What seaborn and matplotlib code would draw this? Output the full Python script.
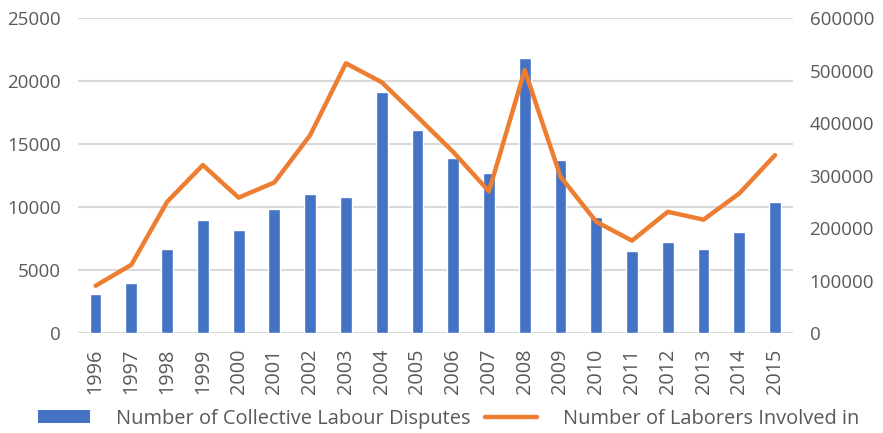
import matplotlib
matplotlib.use("Agg")
import matplotlib.pyplot as plt
import seaborn as sns
import pandas as pd
from matplotlib.patches import Patch
from matplotlib.lines import Line2D

years = ["1996", "1997", "1998", "1999", "2000", "2001", "2002", "2003", "2004", "2005",
         "2006", "2007", "2008", "2009", "2010", "2011", "2012", "2013", "2014", "2015"]
disputes = [3100, 4000, 6700, 9000, 8200, 9850, 11000, 10800, 19100, 16100,
            13900, 12700, 21800, 13700, 9200, 6500, 7200, 6700, 8000, 10400]
laborers = [90000, 130000, 250000, 320000, 258000, 287000, 377000, 514000, 478000, 412000,
            345000, 270000, 501000, 298000, 212000, 176000, 231000, 216000, 266000, 339000]
left_ticks = [0, 5000, 10000, 15000, 20000, 25000]
right_ticks = [0, 100000, 200000, 300000, 400000, 500000, 600000]
bar_label = "Number of Collective Labour Disputes"
line_label = "Number of Laborers Involved in"

BLUE = "#4472C4"
ORANGE = "#ED7D31"
TEXT = "#595959"
GRID = "#D9D9D9"

sns.set_theme(style="white")
plt.rcParams["font.family"] = ["Open Sans", "DejaVu Sans"]

df = pd.DataFrame({"year": years, "disputes": disputes, "laborers": laborers})

fig = plt.figure(figsize=(8.83, 4.33), dpi=100)
ax = fig.add_axes([0.088, 0.231, 0.81, 0.727])
ax2 = ax.twinx()

sns.barplot(data=df, x="year", y="disputes", order=years, color=BLUE,
            width=0.33, saturation=1, ax=ax, zorder=2)
sns.pointplot(data=df, x="year", y="laborers", order=years, color=ORANGE,
              markers="", linewidth=3.2, ax=ax2)

ax.set_ylim(0, 25000)
ax.set_yticks(left_ticks)
ax2.set_ylim(0, 600000)
ax2.set_yticks(right_ticks)
ax.set_xlim(-0.5, len(years) - 0.5)

ax.yaxis.grid(True, color=GRID, linewidth=1.5, zorder=0)
ax.set_axisbelow(True)
ax2.grid(False)
for a in (ax, ax2):
    for s in a.spines.values():
        s.set_visible(False)
    a.set_xlabel("")
    a.set_ylabel("")

ax.tick_params(axis="y", labelsize=13.5, labelcolor=TEXT, length=0, pad=12)
ax2.tick_params(axis="y", labelsize=13.5, labelcolor=TEXT, length=0, pad=12)
ax.tick_params(axis="x", labelsize=14.3, labelcolor=TEXT, length=0, pad=11, rotation=90)
ax.set_xticks(range(len(years)))
ax.set_xticklabels(years)

handles = [Patch(facecolor=BLUE, edgecolor="none"),
           Line2D([0], [0], color=ORANGE, linewidth=3.2)]
fig.legend(handles, [bar_label, line_label], loc="center", bbox_to_anchor=(0.508, 0.033),
           ncol=2, frameon=False, fontsize=14.4, labelcolor=TEXT, handlelength=2.6,
           handleheight=0.6, handletextpad=1.3, columnspacing=0.7)

fig.savefig("out.png", dpi=100)
